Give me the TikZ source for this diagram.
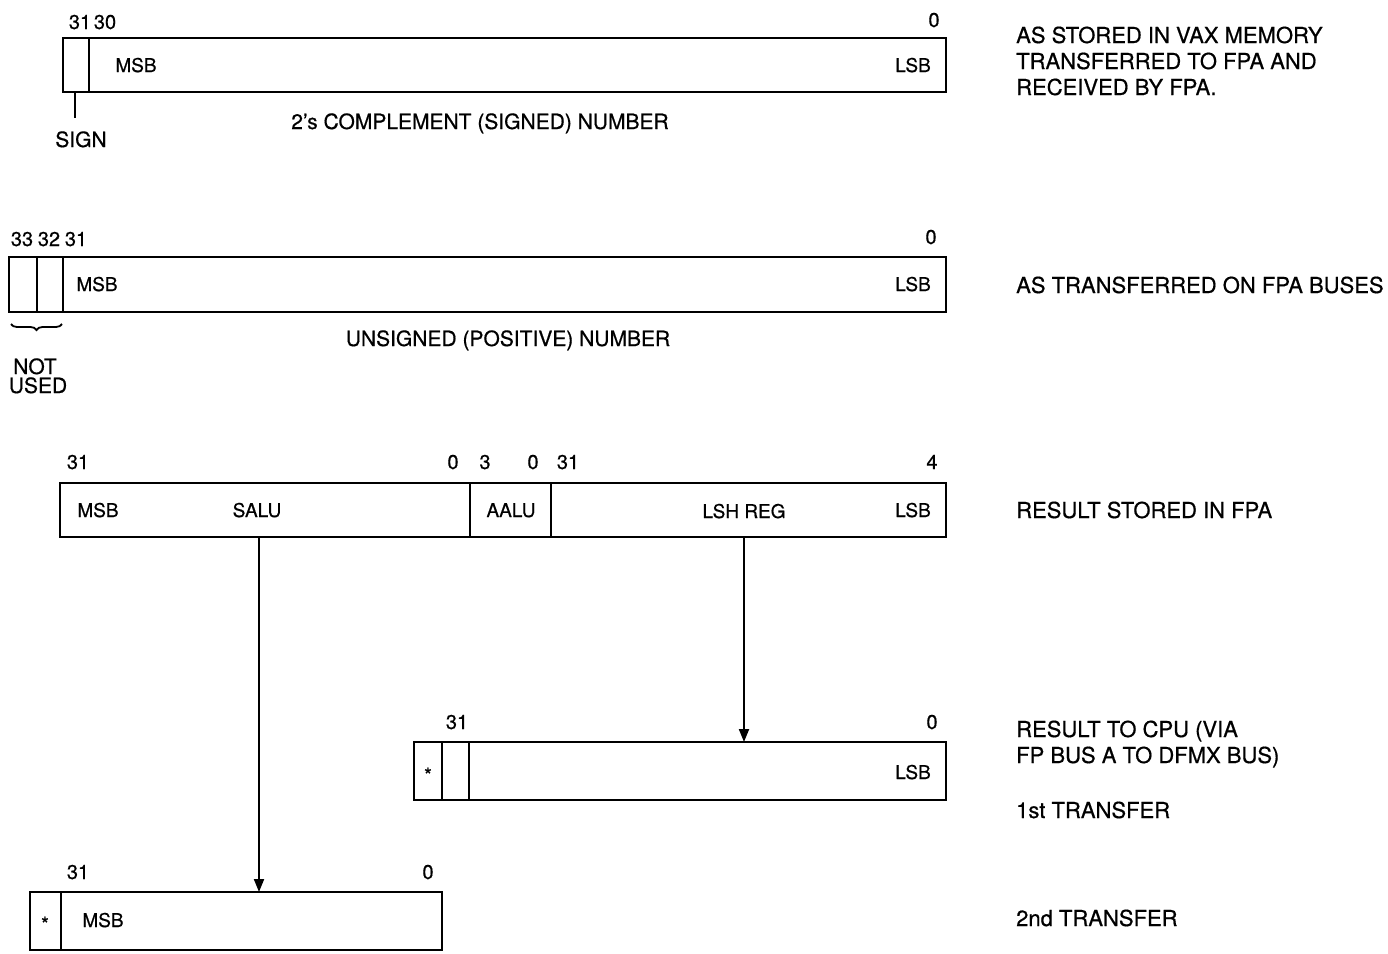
\documentclass[tikz,border=0pt]{standalone}
\usepackage{fontspec}
\setmainfont[FakeBold=0.6]{TeX Gyre Heros}
\usetikzlibrary{decorations.pathreplacing,arrows.meta}
\begin{document}
\begin{tikzpicture}[x=1pt,y=-1pt,
  reg/.style={draw, line width=2.8pt, inner sep=0pt, outer sep=0pt, anchor=north west},
  div/.style={line width=2pt},
  lab/.style={font=\fontsize{19}{21}\selectfont, anchor=base, inner sep=0pt},
  bit/.style={font=\fontsize{20}{22}\selectfont, anchor=base, inner sep=0pt},
  capt/.style={font=\fontsize{21}{23}\selectfont, anchor=base, inner sep=0pt},
  note/.style={font=\fontsize{22}{24}\selectfont, anchor=base west, inner sep=0pt},
  star/.style={font=\fontsize{20}{22}\selectfont, inner sep=0pt},
  arr/.style={line width=2pt, -{Triangle[length=13pt,width=10pt]}}]
\useasboundingbox (0,0) rectangle (1388,953);

% ---------- register 1 ----------
\node[reg, minimum width=883pt, minimum height=54pt] (r1) at (63,38) {};
\draw[div] (89,38) -- (89,92);
\coordinate (signtop) at (75,92);
\node[capt] (sign) at (81,147) {SIGN};
\draw[div] (signtop) -- (75,118);
\node[bit] at (80,29) {31};
\node[bit] at (105,29) {30};
\node[bit] at (934,27) {0};
\node[lab] at (136,72) {MSB};
\node[lab] at (913,72) {LSB};
\node[capt] at (480,129) {2's COMPLEMENT (SIGNED) NUMBER};

% ---------- register 2 ----------
\node[reg, minimum width=937pt, minimum height=55pt] (r2) at (9,257) {};
\draw[div] (37,257) -- (37,312);
\draw[div] (63,257) -- (63,312);
\node[bit] at (22,246) {33};
\node[bit] at (49,246) {32};
\node[bit] at (76,246) {31};
\node[bit] at (931,244) {0};
\node[lab] at (97,291) {MSB};
\node[lab] at (913,291) {LSB};
\draw[line width=1.8pt, decorate, decoration={brace, mirror, amplitude=6pt}] (11,324) -- (62,324);
\node[capt] at (35,374) {NOT};
\node[capt] at (38,393) {USED};
\node[capt] at (508,346) {UNSIGNED (POSITIVE) NUMBER};

% ---------- register 3 ----------
\node[reg, minimum width=886pt, minimum height=54pt] (r3) at (60,483) {};
\draw[div] (470,483) -- (470,537);
\draw[div] (551,483) -- (551,537);
\node[bit] at (78,469) {31};
\node[bit] at (453,469) {0};
\node[bit] at (485,469) {3};
\node[bit] at (533,469) {0};
\node[bit] at (568,469) {31};
\node[bit] at (932,469) {4};
\node[lab] at (98,517) {MSB};
\node[lab] (salu) at (257,517) {SALU};
\node[lab] at (511,517) {AALU};
\node[lab] (lsh) at (744,518) {LSH REG};
\node[lab] at (913,517) {LSB};

% ---------- 1st transfer ----------
\node[reg, minimum width=532pt, minimum height=58pt] (r4) at (414,742) {};
\draw[div] (442,742) -- (442,800);
\draw[div] (469,742) -- (469,800);
\node[bit] at (457,729) {31};
\node[bit] at (932,729) {0};
\node[star] at (428,775) {*};
\node[lab] at (913,779) {LSB};

% ---------- 2nd transfer ----------
\node[reg, minimum width=412pt, minimum height=58pt] (r5) at (30,892) {};
\draw[div] (61,892) -- (61,950);
\node[bit] at (78,879) {31};
\node[bit] at (428,879) {0};
\node[star] at (45,924) {*};
\node[lab] at (103,927) {MSB};

% ---------- arrows ----------
\draw[arr] (r3.south -| 259,0) -- (r5.north -| 259,0);
\draw[arr] (r3.south -| 744,0) -- (r4.north -| 744,0);

% ---------- right-hand notes ----------
\node[note] at (1016,43) {AS STORED IN VAX MEMORY};
\node[note] at (1016,69) {TRANSFERRED TO FPA AND};
\node[note] at (1016,95) {RECEIVED BY FPA.};
\node[note] at (1016,293) {AS TRANSFERRED ON FPA BUSES};
\node[note] at (1016,518) {RESULT STORED IN FPA};
\node[note] at (1016,737) {RESULT TO CPU (VIA};
\node[note] at (1016,763) {FP BUS A TO DFMX BUS)};
\node[note] at (1016,818) {1st TRANSFER};
\node[note] at (1016,926) {2nd TRANSFER};
\end{tikzpicture}
\end{document}
